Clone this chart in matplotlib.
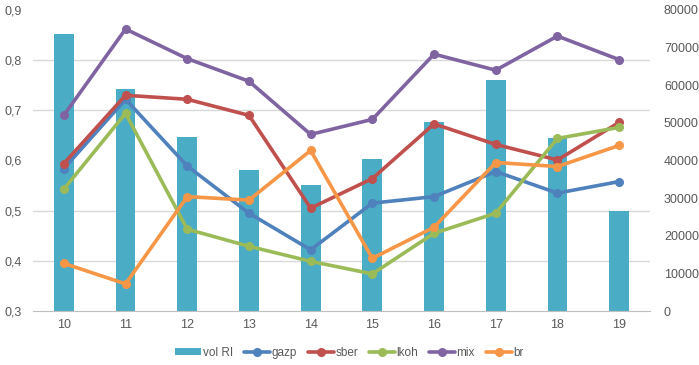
import numpy as np
import matplotlib.pyplot as plt
from matplotlib.ticker import FixedLocator, FuncFormatter

# data
hours = ["10", "11", "12", "13", "14", "15", "16", "17", "18", "19"]
vol_ri = [73600, 59000, 46200, 37500, 33500, 40400, 50200, 61400, 46100, 26600]
gazp = [0.584, 0.722, 0.589, 0.495, 0.422, 0.515, 0.528, 0.578, 0.535, 0.558]
sber = [0.594, 0.730, 0.722, 0.690, 0.505, 0.564, 0.673, 0.632, 0.601, 0.676]
lkoh = [0.543, 0.694, 0.463, 0.429, 0.399, 0.374, 0.455, 0.495, 0.644, 0.666]
mix = [0.690, 0.862, 0.803, 0.758, 0.652, 0.682, 0.812, 0.780, 0.848, 0.801]
br = [0.395, 0.354, 0.528, 0.521, 0.620, 0.405, 0.467, 0.596, 0.588, 0.630]

series = [("gazp", gazp, "#4F81BD"), ("sber", sber, "#C0504D"),
          ("lkoh", lkoh, "#9BBB59"), ("mix", mix, "#8064A2"),
          ("br", br, "#F79646")]

txt = "#595959"
plt.rcParams['font.family'] = ['Liberation Sans', 'DejaVu Sans']

fig = plt.figure(figsize=(6.99, 3.65), dpi=100)
ax = fig.add_axes([33 / 699, 1 - 311 / 365, 617 / 699, 301 / 365])
ax2 = ax.twinx()  # lines, left scale (twinx resets ax ticks, so make it first)
ax2.patch.set_visible(False)
x = np.arange(len(hours))

# bars on the secondary (right) scale, drawn underneath
bars = ax.bar(x, vol_ri, width=0.32, color="#4BACC6", label="vol RI", zorder=2)
ax.set_ylim(0, 80000)
ax.set_yticks(np.arange(0, 80001, 10000))
ax.yaxis.tick_right()
ax.yaxis.set_label_position("right")
ax.yaxis.set_minor_locator(FixedLocator(np.linspace(0, 80000, 7)))
ax.grid(which="minor", axis="y", color="#D9D9D9", lw=1, zorder=0)
ax.tick_params(axis="y", which="both", length=0, labelsize=9, labelcolor=txt, pad=10)
ax.set_xlim(-0.5, len(hours) - 0.5)
ax.set_xticks(x)
ax.set_xticklabels(hours)
ax.tick_params(axis="x", length=0, labelsize=9, labelcolor=txt, pad=6)
for s in ["top", "left", "right"]:
    ax.spines[s].set_visible(False)
ax.spines["bottom"].set_color("#BFBFBF")

handles = [bars]
for name, vals, col in series:
    h, = ax2.plot(x, vals, color=col, lw=2.6, marker="o", ms=5.5,
                  label=name, solid_capstyle="round")
    handles.append(h)
ax2.set_ylim(0.3, 0.9)
ax2.set_yticks(np.arange(0.3, 0.91, 0.1))
ax2.yaxis.set_major_formatter(FuncFormatter(lambda v, p: f"{v:.1f}".replace(".", ",")))
ax2.yaxis.tick_left()
ax2.tick_params(axis="y", length=0, labelsize=9, labelcolor=txt, pad=8)
for s in ax2.spines.values():
    s.set_visible(False)

fig.legend(handles=handles, labels=["vol RI"] + [s[0] for s in series],
           loc="center", bbox_to_anchor=(0.5, 12 / 365), ncol=6, frameon=False,
           fontsize=8.5, labelcolor=txt, handlelength=2.2, handleheight=0.5,
           handletextpad=0.15, columnspacing=0.9)

fig.savefig("out.png", dpi=100)
